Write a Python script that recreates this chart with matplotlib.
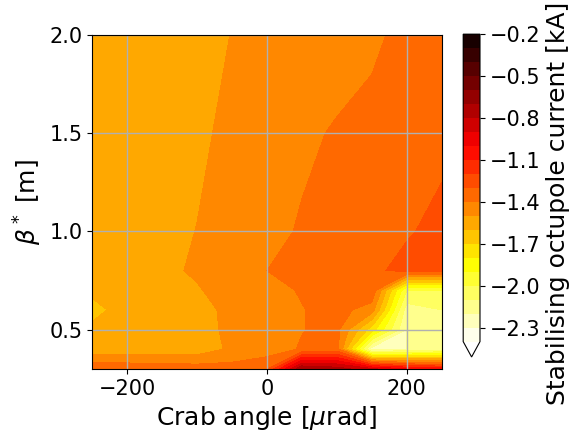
import numpy as np
import matplotlib
matplotlib.use("Agg")
import matplotlib.pyplot as plt

# crab angle [urad] and beta* [m] grid
crab = [-250, -200, -150, -100, -50, 0, 50, 100, 150, 200, 250]
beta = [0.3, 0.4, 0.5, 0.6, 0.7, 0.8, 1.0, 1.5, 2.0]

# stabilising octupole current [kA], one row per beta*
i_03 = [-1.32, -1.33, -1.34, -1.35, -1.36, -1.32, -0.70, -0.75, -0.88, -1.00, -1.05]
i_04 = [-1.57, -1.565, -1.56, -1.56, -1.48, -1.45, -1.39, -1.36, -2.25, -2.20, -2.15]
i_05 = [-1.58, -1.57, -1.56, -1.55, -1.47, -1.45, -1.404, -1.37, -1.75, -2.20, -2.15]
i_06 = [-1.63, -1.56, -1.55, -1.54, -1.47, -1.44, -1.405, -1.36, -1.45, -2.15, -2.10]
i_07 = [-1.58, -1.56, -1.55, -1.51, -1.45, -1.44, -1.39, -1.35, -1.32, -2.00, -2.00]
i_08 = [-1.56, -1.55, -1.525, -1.485, -1.45, -1.40, -1.37, -1.35, -1.32, -1.27, -1.27]
i_10 = [-1.56, -1.55, -1.53, -1.498, -1.47, -1.43, -1.39, -1.36, -1.33, -1.31, -1.27]
i_15 = [-1.56, -1.55, -1.54, -1.52, -1.475, -1.45, -1.42, -1.39, -1.37, -1.35, -1.33]
i_20 = [-1.56, -1.55, -1.54, -1.53, -1.498, -1.47, -1.46, -1.45, -1.42, -1.37, -1.35]

current = np.array([i_03, i_04, i_05, i_06, i_07, i_08, i_10, i_15, i_20])
levels = np.linspace(-2.4, -0.2, 23)

plt.rcParams["font.size"] = 15

fig = plt.figure(figsize=(5.79, 4.38), dpi=100)
ax = fig.add_axes([0.159, 0.158, 0.604, 0.762])
cax = fig.add_axes([0.800, 0.185, 0.029, 0.737])

cs = ax.contourf(crab, beta, current, levels=levels, cmap="hot_r", extend="min")
ax.grid(True, color="#b0b0b0", lw=1.0)
ax.set_xlim(-250, 250)
ax.set_ylim(0.3, 2.0)
ax.set_xticks([-200, 0, 200])
ax.set_yticks([0.5, 1.0, 1.5, 2.0])
ax.set_xlabel(r"Crab angle [$\mu$rad]", fontsize=18)
ax.set_ylabel(r"$\beta^*$ [m]", fontsize=18)

cb = fig.colorbar(cs, cax=cax)
cb.set_label("Stabilising octupole current [kA]", fontsize=18)
# the label is a bit lower than the bar centre in the original
cb.ax.yaxis.label.set_y(0.45)

fig.savefig("out.png", dpi=100)
